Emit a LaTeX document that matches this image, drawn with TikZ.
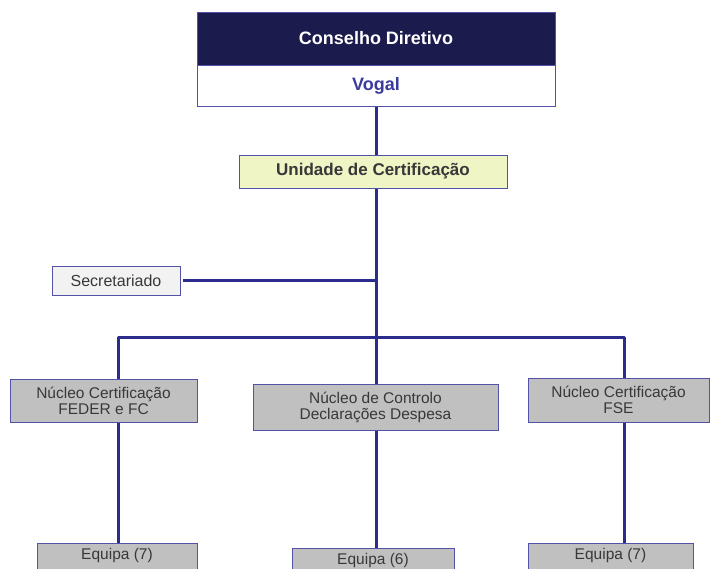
\documentclass[tikz,border=0pt]{standalone}
\usepackage{fontspec}
\setmainfont{Liberation Sans}
\usetikzlibrary{backgrounds}
\begin{document}
\definecolor{navy}{HTML}{1B1B4D}
\definecolor{edge}{HTML}{5252A8}
\definecolor{wire}{HTML}{2C2C8E}
\definecolor{vogaltxt}{HTML}{3B3B9E}
\definecolor{unitfill}{HTML}{F0F5C6}
\definecolor{grayfill}{HTML}{C0C0C0}
\definecolor{txt}{HTML}{383838}
\begin{tikzpicture}[x=1pt,y=-1pt,
  box/.style={draw=edge,line width=0.8pt,inner sep=0pt,align=center,text=txt,
    font=\fontsize{15.5}{16}\selectfont},
  unit/.style={box,fill=grayfill},
  wireline/.style={draw=wire,line width=3pt},
]
\useasboundingbox (0,0) rectangle (710,569);
\clip (0,0) rectangle (710,569);

% junction points of the connector tree
\coordinate (hub) at (376,338);
\coordinate (lx) at (118,338);
\coordinate (rx) at (624,338);

% top block
\node[box,fill=navy,text=white,minimum width=358pt,minimum height=53pt,
  font=\fontsize{18}{20}\selectfont\bfseries] (cd) at (376,38.5) {Conselho Diretivo};
\node[box,fill=white,text=vogaltxt,minimum width=358pt,minimum height=41pt,
  font=\fontsize{18}{20}\selectfont\bfseries] (vogal) at (376,85.5) {Vogal};

\node[box,fill=unitfill,minimum width=268pt,minimum height=33pt,
  font=\fontsize{17}{19}\selectfont\bfseries] (uc) at (373,171.5) {Unidade de Certificação};

\node[box,fill=black!5,minimum width=128pt,minimum height=29pt,
  font=\fontsize{16}{17}\selectfont] (sec) at (116,280.5) {Secretariado};

\node[unit,minimum width=187pt,minimum height=43pt] (n1) at (103.5,400.5)
  {Núcleo Certificação\\FEDER e FC};
\node[unit,minimum width=245pt,minimum height=46pt] (n2) at (375.5,407)
  {Núcleo de Controlo\\Declarações Despesa};
\node[unit,minimum width=181pt,minimum height=44pt] (n3) at (618.5,400)
  {Núcleo Certificação\\FSE};

\node[unit,minimum width=160pt,minimum height=30pt,anchor=north] (e1) at (117,543)
  {\raisebox{9pt}{Equipa (7)}};
\node[unit,minimum width=162pt,minimum height=30pt,anchor=north] (e2) at (373,548)
  {\raisebox{9pt}{Equipa (6)}};
\node[unit,minimum width=165pt,minimum height=30pt,anchor=north] (e3) at (610.5,543)
  {\raisebox{9pt}{Equipa (7)}};

% connectors, kept behind the boxes
\begin{scope}[on background layer]
\fill[white] (0,0) rectangle (710,569);
\draw[wireline] (vogal.south -| hub) -- (hub);
\draw[wireline] ([xshift=3pt]sec.east) -- (sec.east -| hub);
\draw[wireline,line join=round] (n1.north -| lx) -- (lx) -- (rx) -- (n3.north -| rx);
\draw[wireline] (hub) -- (n2.north -| hub);
\draw[wireline] (n1.south -| lx) -- (e1.north -| lx);
\draw[wireline] (n2.south -| hub) -- (e2.north -| hub);
\draw[wireline] (n3.south -| rx) -- (e3.north -| rx);
\end{scope}
\end{tikzpicture}
\end{document}
